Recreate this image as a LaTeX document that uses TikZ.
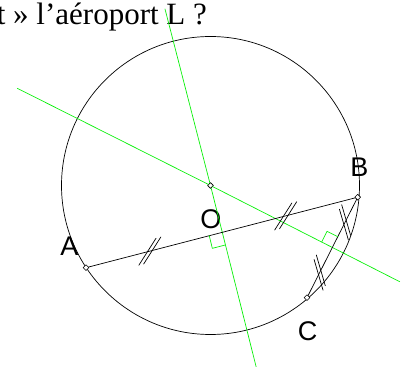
\documentclass[tikz,border=0pt]{standalone}
\usepackage{fontspec}
\setmainfont{Liberation Serif}
\newfontfamily\lblfont{Liberation Sans}
\usetikzlibrary{calc,shapes.geometric}
\definecolor{medgreen}{RGB}{10,240,10}
\tikzset{
  gp/.style={diamond,draw,fill=white,inner sep=0pt,minimum size=6pt,
             line width=0.6pt},
  lbl/.style={inner sep=0pt,font=\lblfont\fontsize{27}{27}\selectfont},
  med/.style={draw=medgreen,line width=0.7pt},
  every picture/.style={line cap=round,line join=round}}

\begin{document}
\begin{tikzpicture}[x=1pt,y=1pt,line width=0.7pt]
  \useasboundingbox (0,0) rectangle (408,367);
  \clip (0,0) rectangle (408,367);
  \node[anchor=base west,inner sep=0pt,font=\fontsize{31}{31}\selectfont] (q)
    at (-3.5,342){t » l’aéroport L ?};
  \draw (210.5,181.5) circle (149);
  \node[gp] (O) at (210.5,181.5){}; \node[gp] (A) at (86,99.3){};
  \node[gp] (B) at (357.7,169.8){}; \node[gp] (C) at (307,69.3){};
  \coordinate (M1) at ($(A)!0.5!(B)$); \coordinate (M2) at ($(B)!0.5!(C)$);
  \node[lbl] (lA) at (69.3,120.3){A}; \node[lbl] (lB) at (359.3,199.7){B};
  \node[lbl] (lO) at (211,148){O};    \node[lbl] (lC) at (307.7,35.3){C};
  % mediatrices
  \coordinate (g1a) at (165,358);    \coordinate (g1b) at (256.7,-2);
  \coordinate (g2a) at (17.3,278.7); \coordinate (g2b) at (399.7,85.3);
  \draw[med] (g1a) -- (O) -- (g1b);
  \draw[med] (g2a) -- (O) -- (g2b);
  \draw (A) -- (B) -- (C);
  % angles droits
  \coordinate (r1a) at ($(M1)!13pt!(A)$); \coordinate (r1b) at ($(M1)!-13pt!(O)$);
  \draw[med] (r1a) -- ($(r1a)+(r1b)-(M1)$) -- (r1b);
  \coordinate (r2a) at ($(M2)!12pt!(B)$); \coordinate (r2b) at ($(M2)!12pt!(O)$);
  \draw[med] (r2a) -- ($(r2a)+(r2b)-(M2)$) -- (r2b);
  % codage des segments
  \foreach \p/\q/\t in {A/M1/0.47,M1/B/0.47,B/M2/0.5,M2/C/0.5}{
    \coordinate (tc) at ($(\p)!\t!(\q)$);
    \foreach \s in {-2.5pt,2.5pt}{
      \coordinate (ts) at ($(tc)!\s!(\q)$);
      \draw ($(ts)!16pt!43:(\q)$) -- ($(ts)!-16pt!43:(\q)$);
    }
  }
\end{tikzpicture}
\end{document}
